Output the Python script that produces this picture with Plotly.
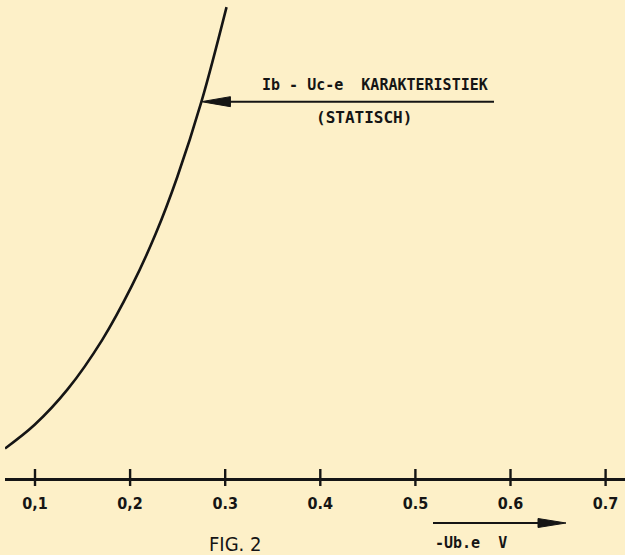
import plotly.graph_objects as go

# Static base characteristic: base current vs. base-emitter voltage
ube_v = [0.0685, 0.0996, 0.1342, 0.1707, 0.2014, 0.2270, 0.2496,
         0.2750, 0.3014]
ib = [6.48, 11.51, 19.02, 29.55, 40.83, 52.10, 64.12, 80.11, 100.2]

tick_vals = [0.1, 0.2, 0.3, 0.4, 0.5, 0.6, 0.7]
tick_text = ["0,1", "0,2", "0.3", "0.4", "0.5", "0.6", "0.7"]

W, H = 625, 555
BG = "#FDF0C8"
INK = "#151515"

# axis scales (px per unit)
X0_PX, X_PER_TENTH = 35.0, 95.1
Y0_PX, Y_PER_UNIT = 479.0, 4.71


def px_to_x(px):
    return 0.1 + (px - X0_PX) / (X_PER_TENTH * 10)


x_range = [px_to_x(5), px_to_x(W)]
y_range = [-(H - Y0_PX) / Y_PER_UNIT, Y0_PX / Y_PER_UNIT]

fig = go.Figure()

# the characteristic curve
fig.add_trace(go.Scatter(
    x=ube_v, y=ib, mode="lines",
    line=dict(color=INK, width=2.6, shape="spline", smoothing=1.0),
    hoverinfo="skip", showlegend=False,
))

# tick marks crossing the horizontal axis
tx, ty = [], []
for v in tick_vals:
    tx += [v, v, None]
    ty += [-7 / Y_PER_UNIT, 10 / Y_PER_UNIT, None]
fig.add_trace(go.Scatter(
    x=tx, y=ty, mode="lines", line=dict(color=INK, width=2.4),
    hoverinfo="skip", showlegend=False,
))

# pointer to the curve, tip on the curve point
tip_i = 7
tip_x, tip_y = ube_v[tip_i], ib[tip_i]
head_len = px_to_x(231) - px_to_x(202)
half_h = 5 / Y_PER_UNIT
shapes = [
    dict(type="line", xref="x", yref="y",
         x0=tip_x + head_len * 0.9, x1=px_to_x(494), y0=tip_y, y1=tip_y,
         line=dict(color=INK, width=2)),
    dict(type="path", xref="x", yref="y",
         path=f"M {tip_x} {tip_y} L {tip_x + head_len} {tip_y + half_h} "
              f"L {tip_x + head_len} {tip_y - half_h} Z",
         fillcolor=INK, line=dict(color=INK, width=1)),
]


# arrow along the voltage label
def pp(px, py):
    return px / W, 1 - py / H


ax0, ay = pp(433, 523)
ax1, _ = pp(538, 523)
ax2, _ = pp(566, 523)
hh = 4.5 / H
shapes += [
    dict(type="line", xref="paper", yref="paper", x0=ax0, x1=ax1 + 0.005,
         y0=ay, y1=ay, line=dict(color=INK, width=2)),
    dict(type="path", xref="paper", yref="paper",
         path=f"M {ax2} {ay} L {ax1} {ay + hh} L {ax1} {ay - hh} Z",
         fillcolor=INK, line=dict(color=INK, width=1)),
]

mono = "DejaVu Sans Mono"
cond = "DejaVu Sans Condensed"


def label(text, cx, cy, family, size, weight="normal"):
    return dict(text=text, x=cx / W, y=1 - cy / H, xref="paper", yref="paper",
                xanchor="center", yanchor="middle", showarrow=False,
                font=dict(family=family, size=size, color=INK, weight=weight))


annotations = [
    label("Ib - Uc-e  KARAKTERISTIEK", 375, 85, mono, 15, "bold"),
    label("(STATISCH)", 364, 117, mono, 16, "bold"),
    label("-Ub.e  V", 471, 543, mono, 15, "bold"),
    label("FIG. 2", 235, 544, cond, 20),
]

fig.update_layout(
    width=W, height=H,
    margin=dict(l=0, r=0, t=0, b=0),
    paper_bgcolor=BG, plot_bgcolor=BG,
    showlegend=False,
    shapes=shapes, annotations=annotations,
    xaxis=dict(
        domain=[5 / W, 1], range=x_range, anchor="free",
        position=(H - Y0_PX) / H,
        showline=True, linecolor=INK, linewidth=3,
        showgrid=False, zeroline=False,
        tickvals=tick_vals, ticktext=tick_text,
        ticks="outside", ticklen=9, tickcolor="rgba(0,0,0,0)",
        tickfont=dict(family=cond, size=16, color=INK, weight="bold"),
        fixedrange=True,
    ),
    yaxis=dict(
        domain=[0, 1], range=y_range, visible=False,
        showgrid=False, zeroline=False, fixedrange=True,
    ),
)

fig.write_html("out.html")
